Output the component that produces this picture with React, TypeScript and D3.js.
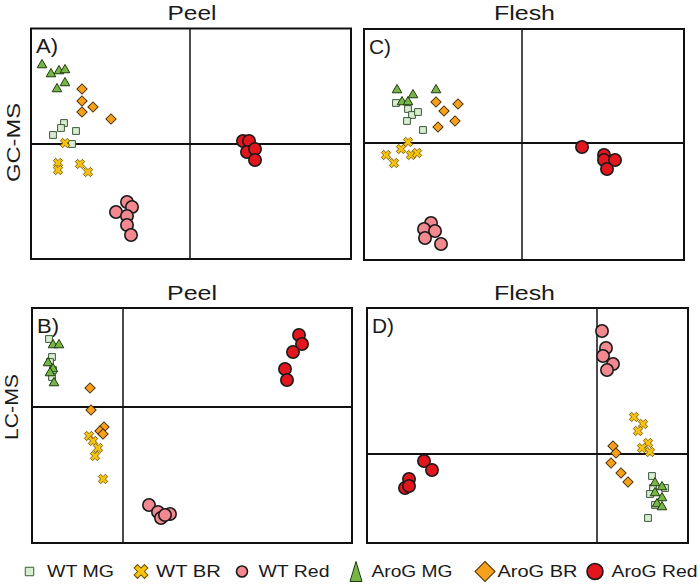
import React from "react";
import * as d3 from "d3";

// ---------- data ----------
const seriesNames = ["WT MG", "WT BR", "WT Red", "AroG MG", "AroG BR", "AroG Red"];
const rowLabels = ["GC-MS", "LC-MS"];
const columnTitles = ["Peel", "Flesh"];
const panelLetters = ["A)", "C)", "B)", "D)"];

// score coordinates [PC1, PC2] per series, in seriesNames order
const gcPeelWTMG = [[-12.6, 2.1], [-12.9, 1.6], [-13.7, 0.9], [-11.4, 1.3], [-11.8, 0.0]];
const gcPeelWTBR = [[-12.5, 0.1], [-13.2, -1.9], [-13.2, -2.6], [-11.0, -2.0], [-10.2, -2.8]];
const gcPeelWTRed = [[-6.3, -5.8], [-5.8, -6.3], [-7.4, -6.8], [-6.3, -7.2], [-6.3, -8.1], [-5.9, -9.1]];
const gcPeelAroMG = [[-14.8, 7.9], [-13.9, 7.0], [-13.1, 7.3], [-12.5, 7.4], [-13.3, 5.5], [-12.5, 6.1]];
const gcPeelAroBR = [[-10.8, 5.5], [-10.8, 4.3], [-9.7, 3.7], [-10.8, 3.2], [-7.9, 2.5]];
const gcPeelAroRed = [[5.3, 0.3], [5.9, 0.3], [5.7, -0.8], [6.5, -0.5], [6.5, -1.6]];

const gcFleshWTMG = [[-12.6, 4.0], [-11.4, 3.4], [-11.0, 2.8], [-10.4, 3.1], [-11.5, 2.2], [-9.9, 1.3]];
const gcFleshWTBR = [[-11.4, 0.1], [-12.1, -0.6], [-13.6, -1.2], [-12.8, -2.0], [-11.1, -1.2], [-10.5, -1.0]];
const gcFleshWTRed = [[-9.1, -8.0], [-9.8, -8.6], [-8.7, -8.8], [-9.7, -9.5], [-8.1, -10.1]];
const gcFleshAroMG = [[-12.5, 5.3], [-12.0, 4.1], [-11.4, 4.1], [-10.9, 4.8], [-8.6, 5.3]];
const gcFleshAroBR = [[-8.6, 4.1], [-7.8, 3.2], [-6.4, 3.9], [-6.7, 2.2], [-8.4, 1.6]];
const gcFleshAroRed = [[6.0, -0.4], [8.2, -1.2], [8.2, -1.7], [9.3, -1.7], [8.5, -2.6]];

const lcPeelWTMG = [[-7.4, 6.8], [-7.1, 5.0], [-7.3, 4.5], [-7.0, 3.7], [-7.1, 3.0]];
const lcPeelWTBR = [[-3.4, -2.9], [-3.0, -3.4], [-2.5, -4.1], [-2.8, -4.9], [-2.0, -7.2]];
const lcPeelWTRed = [[2.6, -9.8], [3.5, -10.5], [4.7, -10.7], [3.8, -11.1], [4.2, -10.8]];
const lcPeelAroMG = [[-7.0, 6.2], [-6.4, 6.2], [-7.5, 4.4], [-7.0, 3.8], [-7.3, 3.4], [-6.9, 2.4]];
const lcPeelAroBR = [[-3.3, 1.9], [-3.2, -0.3], [-1.9, -2.0], [-2.3, -2.4], [-2.0, -2.7]];
const lcPeelAroRed = [[17.6, 7.2], [17.9, 6.3], [17.0, 5.5], [16.2, 3.8], [16.4, 2.7]];

const lcFleshWTMG = [[5.5, -2.2], [5.6, -3.4], [6.8, -3.4], [5.3, -4.0], [5.8, -5.1], [5.1, -6.4]];
const lcFleshWTBR = [[3.7, 3.7], [4.6, 3.0], [4.1, 2.3], [5.1, 1.1], [4.5, 0.6], [5.3, 0.2]];
const lcFleshWTRed = [[0.5, 12.3], [0.9, 10.6], [0.6, 9.8], [1.6, 9.0], [1.0, 8.4]];
const lcFleshAroMG = [[5.8, -2.9], [6.5, -3.3], [5.8, -3.9], [6.5, -4.4], [6.0, -5.0], [6.5, -5.3]];
const lcFleshAroBR = [[1.6, 0.8], [1.9, 0.1], [1.4, -0.9], [2.4, -1.9], [3.1, -2.8]];
const lcFleshAroRed = [[-17.3, -0.7], [-16.5, -1.6], [-18.8, -2.5], [-19.2, -3.4], [-18.8, -3.2]];

const gcPeel = [gcPeelWTMG, gcPeelWTBR, gcPeelWTRed, gcPeelAroMG, gcPeelAroBR, gcPeelAroRed];
const gcFlesh = [gcFleshWTMG, gcFleshWTBR, gcFleshWTRed, gcFleshAroMG, gcFleshAroBR, gcFleshAroRed];
const lcPeel = [lcPeelWTMG, lcPeelWTBR, lcPeelWTRed, lcPeelAroMG, lcPeelAroBR, lcPeelAroRed];
const lcFlesh = [lcFleshWTMG, lcFleshWTBR, lcFleshWTRed, lcFleshAroMG, lcFleshAroBR, lcFleshAroRed];

// ---------- layout & style ----------
const FONT = "'Liberation Sans', Arial, sans-serif";
const TEXT = "#1a1a1a";

const styles = [
  { kind: "square", fill: "#d8ecd0", stroke: "#3b5a3b" },
  { kind: "x", fill: "#f7c20e", stroke: "#6a5200" },
  { kind: "circle", fill: "#f28890", stroke: "#1a1a1a" },
  { kind: "triangle", fill: "#77b646", stroke: "#1e3a10" },
  { kind: "diamond", fill: "#f7a01c", stroke: "#4a2e00" },
  { kind: "circle", fill: "#e3161e", stroke: "#1a1a1a" },
];

const panels = [
  { data: gcPeel, letter: 0, box: [31, 28.5, 351, 259], xd: [-15.9, 16.1], yd: [-11.5, 11.55] },
  { data: gcFlesh, letter: 1, box: [364, 29, 684, 260], xd: [-15.8, 16.2], yd: [-11.7, 11.4] },
  { data: lcPeel, letter: 2, box: [32, 308, 352, 543], xd: [-9.1, 22.9], yd: [-13.6, 9.9] },
  { data: lcFlesh, letter: 3, box: [367, 308, 688, 543], xd: [-23.0, 9.1], yd: [-8.9, 14.6] },
];

const titlePos = [
  { t: 0, x: 192, y: 20, w: 49 },
  { t: 1, x: 524.5, y: 20, w: 61 },
  { t: 0, x: 192, y: 299.5, w: 50 },
  { t: 1, x: 524.5, y: 299.5, w: 61 },
];
const rowPos = [
  { x: 20, y: 142.5, w: 79 },
  { x: 18, y: 407, w: 66 },
];
const legendPos = [
  { ix: 29.5, tx: 47, w: 67 },
  { ix: 141, tx: 156, w: 65 },
  { ix: 242, tx: 258.5, w: 71 },
  { ix: 356, tx: 371.5, w: 81 },
  { ix: 485, tx: 497.5, w: 80 },
  { ix: 595, tx: 611.5, w: 86 },
];

function Marker({ kind, fill, stroke, x, y, big }: any) {
  if (kind === "circle") {
    const r = big ? (fill === "#e3161e" ? 8 : 5.5) : 6.2;
    return <circle cx={x} cy={y} r={r} fill={fill} stroke={stroke} strokeWidth={1.6} />;
  }
  if (kind === "square") {
    const p = d3.symbol().type(d3.symbolSquare).size(big ? 72 : 46)();
    return <path d={p || ""} transform={`translate(${x},${y})`} fill={fill} stroke={stroke} strokeWidth={1} />;
  }
  if (kind === "diamond") {
    const p = d3.symbol().type(d3.symbolSquare).size(big ? 200 : 52)();
    return <path d={p || ""} transform={`translate(${x},${y}) rotate(45)`} fill={fill} stroke={stroke} strokeWidth={1} />;
  }
  if (kind === "x") {
    const p = d3.symbol().type(d3.symbolCross).size(big ? 120 : 55)();
    return <path d={p || ""} transform={`translate(${x},${y}) rotate(45)`} fill={fill} stroke={stroke} strokeWidth={big ? 1 : 0.8} />;
  }
  // triangle
  if (big) {
    return <path d="M0,-10 L6,10 L-6,10 Z" transform={`translate(${x},${y})`} fill={fill} stroke={stroke} strokeWidth={1} />;
  }
  const p = d3.symbol().type(d3.symbolTriangle).size(40)();
  return <path d={p || ""} transform={`translate(${x},${y})`} fill={fill} stroke={stroke} strokeWidth={1} />;
}

function Panel({ p }: any) {
  const [x0, y0, x1, y1] = p.box;
  const xs = d3.scaleLinear().domain(p.xd).range([x0, x1]);
  const ys = d3.scaleLinear().domain(p.yd).range([y1, y0]);
  return (
    <g>
      <line x1={xs(0)} x2={xs(0)} y1={y0} y2={y1} stroke="#111" strokeWidth={1.5} />
      <line x1={x0} x2={x1} y1={ys(0)} y2={ys(0)} stroke="#111" strokeWidth={1.8} />
      <rect x={x0} y={y0} width={x1 - x0} height={y1 - y0} fill="none" stroke="#111" strokeWidth={2} />
      <text x={x0 + 5} y={y0 + 24.5} fontSize={20} fontFamily={FONT} fill={TEXT}
        textLength={22} lengthAdjust="spacingAndGlyphs">{panelLetters[p.letter]}</text>
      {p.data.map((pts: number[][], si: number) => (
        <g key={si}>
          {pts.map((d, i) => (
            <Marker key={i} {...styles[si]} x={xs(d[0])} y={ys(d[1])} />
          ))}
        </g>
      ))}
    </g>
  );
}

export default function App() {
  return (
    <svg width={700} height={588} style={{ position: "absolute", left: 0, top: 0, background: "#fff" }}>
      <rect width={700} height={588} fill="#fff" />
      {titlePos.map((t, i) => (
        <text key={i} x={t.x} y={t.y} textAnchor="middle" fontSize={20.5} fontFamily={FONT} fill={TEXT}
          textLength={t.w} lengthAdjust="spacingAndGlyphs">{columnTitles[t.t]}</text>
      ))}
      {rowPos.map((r, i) => (
        <text key={i} transform={`translate(${r.x},${r.y}) rotate(-90)`} textAnchor="middle" fontSize={19}
          fontFamily={FONT} fill={TEXT} textLength={r.w} lengthAdjust="spacingAndGlyphs">{rowLabels[i]}</text>
      ))}
      {panels.map((p, i) => <Panel key={i} p={p} />)}
      {seriesNames.map((name, i) => (
        <g key={name}>
          <Marker {...styles[i]} x={legendPos[i].ix} y={571.5} big />
          <text x={legendPos[i].tx} y={577} fontSize={16} fontFamily={FONT} fill={TEXT}
            textLength={legendPos[i].w} lengthAdjust="spacingAndGlyphs">{name}</text>
        </g>
      ))}
    </svg>
  );
}
